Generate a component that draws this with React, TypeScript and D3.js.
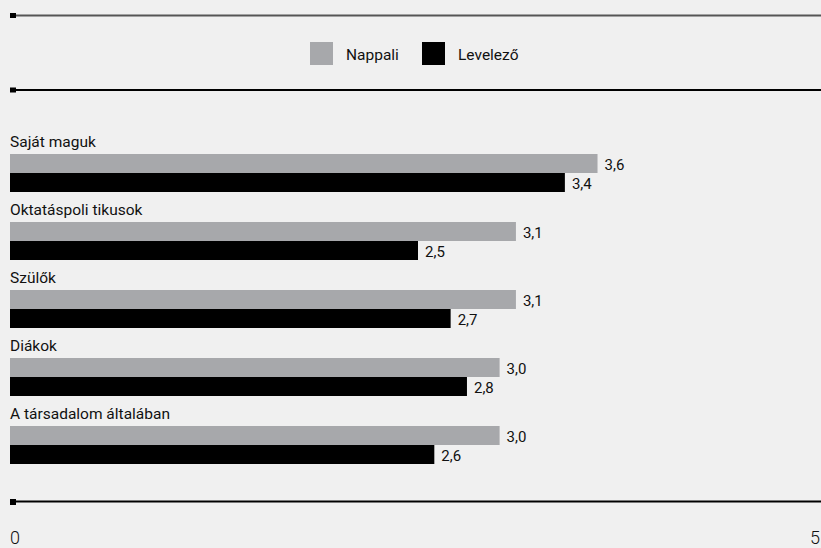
import React from "react";
import * as d3 from "d3";

const categories = ["Saját maguk", "Oktatáspoli tikusok", "Szülők", "Diákok", "A társadalom általában"];
const nappali = [3.6, 3.1, 3.1, 3.0, 3.0];
const levelezo = [3.4, 2.5, 2.7, 2.8, 2.6];
const seriesNames = ["Nappali", "Levelező"];
const seriesColors = ["#a7a8ab", "#000000"];
const axisTicks = [0, 5];

const W = 821;
const H = 548;
const FONT = "Roboto, 'Liberation Sans Narrow', sans-serif";

const fmt = (v: number) => v.toFixed(1).replace(".", ",");

export default function App() {
  const x = d3.scaleLinear().domain([0, 5]).range([10, 826]);
  const y = d3.scaleBand<string>().domain(categories).range([132, 132 + 68 * categories.length]).paddingInner(0);
  const barH = 19;
  const series = [nappali, levelezo];

  return (
    <div style={{ position: "absolute", left: 0, top: 0, width: W, height: H, background: "#f0f0f0" }}>
      <svg width={W} height={H} style={{ display: "block", fontFamily: FONT }}>
        <rect x={0} y={0} width={W} height={H} fill="#f0f0f0" />
        {/* top rule */}
        <line x1={10} x2={W} y1={15.5} y2={15.5} stroke="#555" strokeWidth={2} />
        <rect x={10} y={13} width={6} height={5} fill="#000" />
        {/* legend */}
        {seriesNames.map((n, i) => {
          const lx = i === 0 ? 310 : 422;
          return (
            <g key={n}>
              <rect x={lx} y={42} width={23} height={23} fill={seriesColors[i]} />
              <text x={lx + 36} y={60} fontSize={15.5} fill="#111">{n}</text>
            </g>
          );
        })}
        <line x1={10} x2={W} y1={90} y2={90} stroke="#000" strokeWidth={2} />
        <rect x={10} y={87.5} width={6} height={5} fill="#000" />
        {/* bars */}
        {categories.map((c, ci) => {
          const y0 = y(c)!;
          return (
            <g key={c}>
              <text x={10} y={y0 + 14.5} fontSize={15.5} fill="#111">{c}</text>
              {series.map((s, si) => {
                const by = y0 + 22 + si * barH;
                return (
                  <g key={si}>
                    <rect x={x(0)} y={by} width={x(s[ci]) - x(0)} height={barH} fill={seriesColors[si]} />
                    <text x={x(s[ci]) + 7} y={by + barH / 2 + 6} fontSize={15} fill="#111">{fmt(s[ci])}</text>
                  </g>
                );
              })}
            </g>
          );
        })}
        {/* bottom axis */}
        <line x1={10} x2={W} y1={501.5} y2={501.5} stroke="#000" strokeWidth={2} />
        <rect x={10} y={499} width={6} height={6} fill="#000" />
        {axisTicks.map((t, i) => (
          <text key={t} x={Math.min(x(t), W - 1)} y={544} fontSize={18} fontWeight={300} fill="#111" textAnchor={i === 0 ? "start" : "end"}>{t}</text>
        ))}
      </svg>
    </div>
  );
}
